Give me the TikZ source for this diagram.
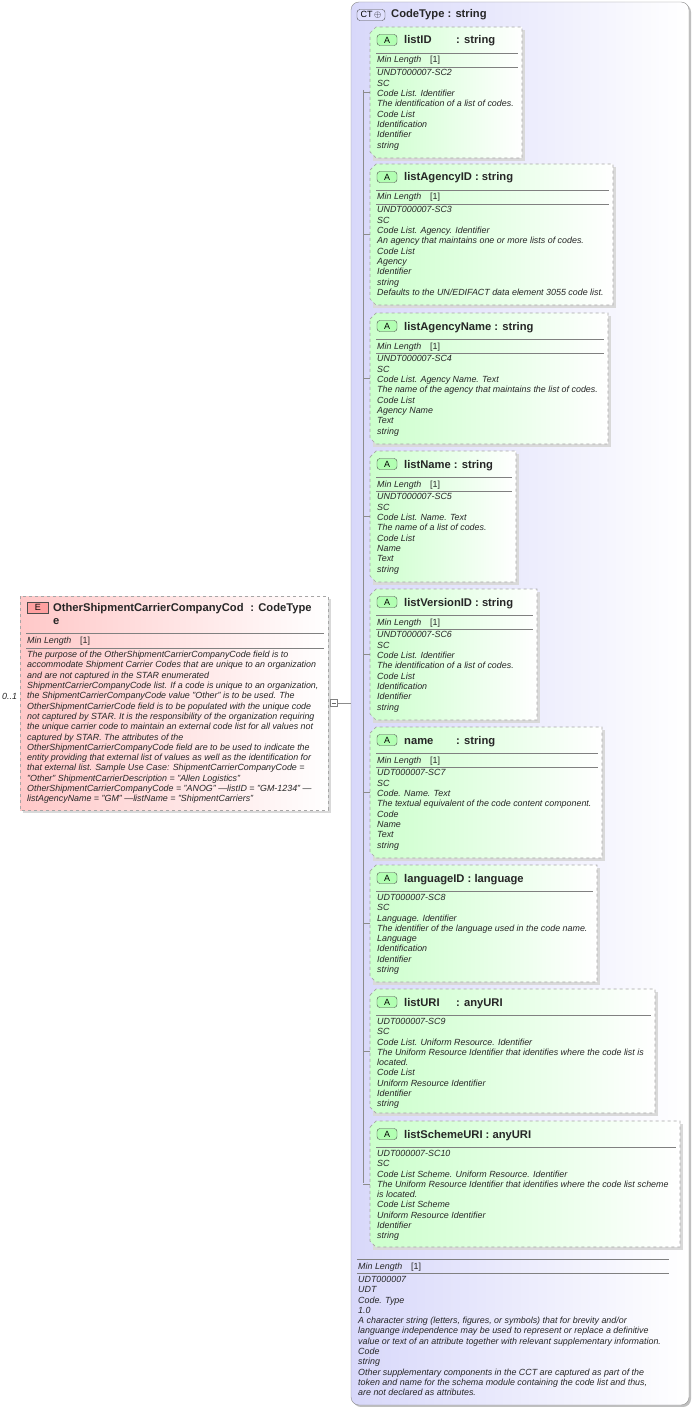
\documentclass[tikz,border=0pt]{standalone}
\usepackage{fontspec}
\setmainfont{Liberation Sans}
\begin{document}
\begin{tikzpicture}[x=1pt,y=-1pt,
  small/.style={font=\itshape\fontsize{8.9}{10.3}\selectfont,align=left,inner sep=0pt,anchor=base west,text=black!85},
  ttl/.style={font=\bfseries\fontsize{11.2}{13}\selectfont,inner sep=0pt,anchor=base west,text=black!85},
  sep/.style={draw=black!50,line width=0.6pt},
  tree/.style={draw=black!45,line width=0.5pt},
  dbox/.style={draw=black!35,dashed,line width=0.7pt},
  aicon/.style={draw=black!70,fill=green!30,rounded corners=3pt,minimum width=20pt,minimum height=11pt,inner sep=0pt,font=\fontsize{9}{10}\selectfont}]
\useasboundingbox (0,0) rectangle (693,1407);
\definecolor{attrg}{HTML}{CCFFCC}
\definecolor{ctbg}{HTML}{D8D8FA}
\definecolor{elbg}{HTML}{FFC8C8}
% CT box
\fill[black!25,rounded corners=8pt] (353,4) rectangle (691,1407);
\shade[left color=ctbg,right color=white,rounded corners=8pt,draw=black!45] (351,2) rectangle (689,1405);
\node[draw=black!70,fill=ctbg!70!blue!30,rounded corners=3pt,minimum width=28pt,minimum height=11pt,inner sep=0pt,font=\fontsize{9}{10}\selectfont] (cticon) at (371,15) {CT\,$\oplus$};
\node[ttl] (cttitle) at (391,18) {CodeType : string};
% tree
\draw[tree] (363,90) -- (363,1183);
\newcommand\attrbox[9]{%
  \fill[black!15] (373,{#2+3}) -- (#3+3,{#2+3}) -- (#3+3,{#4+3}) -- (373,{#4+3}) -- cycle;
  \shade[left color=attrg,right color=white] (370,{#2+6}) -- (376,#2) -- (#3,#2) -- (#3,#4) -- (376,#4) -- (370,{#4-6}) -- cycle;
  \draw[dbox] (370,{#2+6}) -- (376,#2) -- (#3,#2) -- (#3,#4) -- (376,#4) -- (370,{#4-6}) -- cycle;
  \coordinate (#1) at (370,{(#2+#4)/2});
  \draw[tree] (363,{(#2+#4)/2}) -- (#1);
  \node[aicon] (#1-icon) at (387,{#2+13}) {A};
  \ifnum#6=0
    \node[ttl] (#1-name) at (404,{#2+17}) {#5 : #7};
  \else
    \node[ttl] (#1-name) at (404,{#2+17}) {#5};
    \node[ttl] (#1-type) at (#6,{#2+17}) {: #7};
  \fi
  \ifnum#8=1
    \draw[sep] (376,{#2+26}) -- ({#3-4},{#2+26});
    \node[small] (#1-ml) at (377,{#2+36}) {Min Length\hspace{9pt}\upshape[1]};
    \draw[sep] (376,{#2+40}) -- ({#3-4},{#2+40});
    \node[small,anchor=north west] (#1-txt) at (377,{#2+42.5}) {#9};
  \else
    \draw[sep] (376,{#2+26}) -- ({#3-4},{#2+26});
    \node[small,anchor=north west] (#1-txt) at (377,{#2+29}) {#9};
  \fi}
\attrbox{a1}{27}{522}{158}{listID}{456}{string}{1}{UNDT000007-SC2\\SC\\Code List. Identifier\\The identification of a list of codes.\\Code List\\Identification\\Identifier\\string}
\attrbox{a2}{164}{613}{305}{listAgencyID}{0}{string}{1}{UNDT000007-SC3\\SC\\Code List. Agency. Identifier\\An agency that maintains one or more lists of codes.\\Code List\\Agency\\Identifier\\string\\Defaults to the UN/EDIFACT data element 3055 code list.}
\attrbox{a3}{313}{608}{444}{listAgencyName}{0}{string}{1}{UNDT000007-SC4\\SC\\Code List. Agency Name. Text\\The name of the agency that maintains the list of codes.\\Code List\\Agency Name\\Text\\string}
\attrbox{a4}{451}{516}{582}{listName}{0}{string}{1}{UNDT000007-SC5\\SC\\Code List. Name. Text\\The name of a list of codes.\\Code List\\Name\\Text\\string}
\attrbox{a5}{589}{537}{720}{listVersionID}{0}{string}{1}{UNDT000007-SC6\\SC\\Code List. Identifier\\The identification of a list of codes.\\Code List\\Identification\\Identifier\\string}
\attrbox{a6}{727}{602}{858}{name}{456}{string}{1}{UDT000007-SC7\\SC\\Code. Name. Text\\The textual equivalent of the code content component.\\Code\\Name\\Text\\string}
\attrbox{a7}{865}{597}{982}{languageID}{0}{language}{0}{UDT000007-SC8\\SC\\Language. Identifier\\The identifier of the language used in the code name.\\Language\\Identification\\Identifier\\string}
\attrbox{a8}{989}{655}{1113}{listURI}{456}{anyURI}{0}{UDT000007-SC9\\SC\\Code List. Uniform Resource. Identifier\\The Uniform Resource Identifier that identifies where the code list is\\located.\\Code List\\Uniform Resource Identifier\\Identifier\\string}
\attrbox{a9}{1121}{680}{1247}{listSchemeURI}{0}{anyURI}{0}{UDT000007-SC10\\SC\\Code List Scheme. Uniform Resource. Identifier\\The Uniform Resource Identifier that identifies where the code list scheme\\is located.\\Code List Scheme\\Uniform Resource Identifier\\Identifier\\string}
% CT bottom
\draw[sep] (357,1259) -- (669,1259);
\node[small] (ctml) at (358,1269) {Min Length\hspace{9pt}\upshape[1]};
\draw[sep] (357,1273) -- (669,1273);
\node[small,anchor=north west] (cttxt) at (358,1276) {UDT000007\\UDT\\Code. Type\\1.0\\A character string (letters, figures, or symbols) that for brevity and/or\\languange independence may be used to represent or replace a definitive\\value or text of an attribute together with relevant supplementary information.\\Code\\string\\Other supplementary components in the CCT are captured as part of the\\token and name for the schema module containing the code list and thus,\\are not declared as attributes.};
% element box
\fill[black!15] (23,599) rectangle (331,813);
\shade[left color=elbg,right color=white] (20,596) rectangle (328,810);
\draw[dbox] (20,596) rectangle (328,810);
\node[draw=black!70,fill=elbg!80!red,minimum width=21pt,minimum height=11pt,inner sep=0pt,font=\fontsize{9}{10}\selectfont] (eicon) at (38,607.5) {E};
\node[ttl] (etitle) at (53,611) {OtherShipmentCarrierCompanyCod\,\, : CodeType};
\node[ttl] (etitle2) at (53,624) {e};
\draw[sep] (26,633) -- (324,633);
\node[small] (eml) at (27,643) {Min Length\hspace{9pt}\upshape[1]};
\draw[sep] (26,648) -- (324,648);
\node[small,anchor=north west] (etxt) at (27,651) {The purpose of the OtherShipmentCarrierCompanyCode field is to\\accommodate Shipment Carrier Codes that are unique to an organization\\and are not captured in the STAR enumerated\\ShipmentCarrierCompanyCode list. If a code is unique to an organization,\\the ShipmentCarrierCompanyCode value "Other" is to be used. The\\OtherShipmentCarrierCode field is to be populated with the unique code\\not captured by STAR. It is the responsibility of the organization requiring\\the unique carrier code to maintain an external code list for all values not\\captured by STAR. The attributes of the\\OtherShipmentCarrierCompanyCode field are to be used to indicate the\\entity providing that external list of values as well as the identification for\\that external list. Sample Use Case: ShipmentCarrierCompanyCode =\\"Other" ShipmentCarrierDescription = "Allen Logistics"\\OtherShipmentCarrierCompanyCode = "ANOG" ---listID = "GM-1234" ---\\listAgencyName = "GM" ---listName = "ShipmentCarriers"};
\node[small] (card) at (2,699) {0..1};
\node[draw=black!50,fill=white,minimum size=7pt,inner sep=0pt] (minus) at (333.5,703) {};
\draw[black!60,line width=0.5pt] (331.5,703) -- (335.5,703);
\draw[tree] (minus.east) -- (351,703);
\end{tikzpicture}
\end{document}
